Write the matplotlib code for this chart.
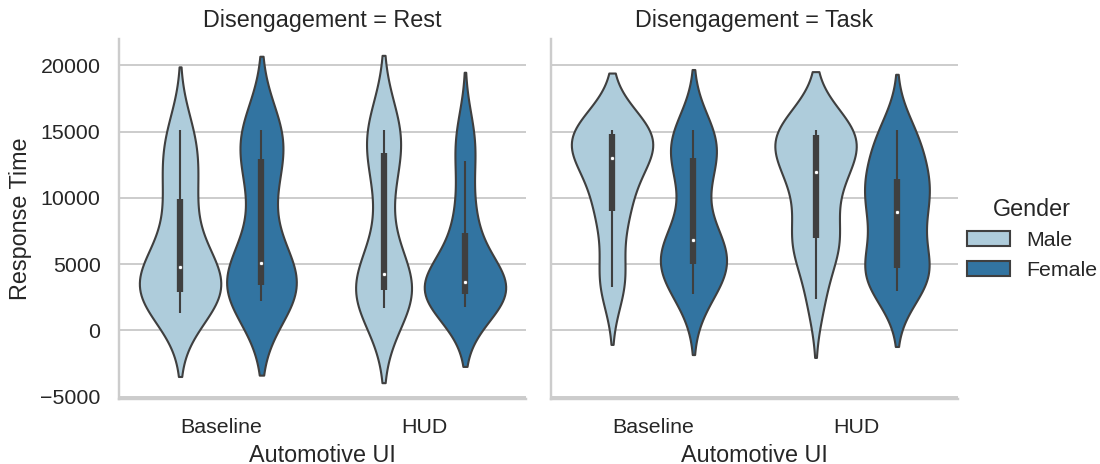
import colorsys
import numpy as np
import matplotlib
matplotlib.use("Agg")
import matplotlib.pyplot as plt
from matplotlib.patches import Patch
import seaborn as sns

# Response times (ms), one value per participant and condition
rest_baseline_male = [1300, 2200, 2800, 2950, 3600, 4300, 5300, 6600, 9400, 11400, 13400, 15100]
rest_baseline_female = [2200, 2900, 3350, 3650, 3800, 6300, 10500, 13700, 14400, 15100]
rest_hud_male = [1700, 2400, 2900, 3100, 3300, 3500, 5000, 9500, 13000, 14600, 14800, 15100]
rest_hud_female = [1750, 2200, 2700, 2770, 3200, 3500, 3850, 4600, 6800, 9100, 12775, 15000]
task_baseline_male = [3250, 4300, 8000, 9370, 11000, 12700, 13350, 14000, 14700, 15000, 15050, 15100]
task_baseline_female = [2750, 3900, 4600, 5133, 5900, 6300, 7300, 10500, 12800, 13700, 14300, 15100]
task_hud_male = [2375, 6000, 6600, 7130, 10000, 11400, 12500, 13600, 14600, 15000, 15050, 15100]
task_hud_female = [3000, 3900, 4400, 4800, 6800, 8100, 9800, 10500, 11000, 12600, 14000, 15100]

disengagement = ["Rest", "Task"]
ui_order = ["Baseline", "HUD"]
gender_order = ["Male", "Female"]

response = {
    ("Rest", "Baseline", "Male"): rest_baseline_male,
    ("Rest", "Baseline", "Female"): rest_baseline_female,
    ("Rest", "HUD", "Male"): rest_hud_male,
    ("Rest", "HUD", "Female"): rest_hud_female,
    ("Task", "Baseline", "Male"): task_baseline_male,
    ("Task", "Baseline", "Female"): task_baseline_female,
    ("Task", "HUD", "Male"): task_hud_male,
    ("Task", "HUD", "Female"): task_hud_female,
}

sns.set_theme(style="whitegrid", font="Liberation Sans")

colors = [sns.desaturate(c, 0.75) for c in sns.color_palette("Paired", 2)]
lum = min(colorsys.rgb_to_hls(*c)[1] for c in colors) * 0.6
edge = (lum, lum, lum)

LW = 1.08
BW_ADJUST = 0.84
CUT = 2
HALF = 0.2          # half width of a single violin (two hues share 0.8)
OFFSETS = [-0.2, 0.2]


def kde(vals):
    vals = np.asarray(vals, dtype=float)
    bw = BW_ADJUST * vals.std(ddof=1) * len(vals) ** -0.2
    support = np.linspace(vals.min() - CUT * bw, vals.max() + CUT * bw, 100)
    z = (support[:, None] - vals[None, :]) / bw
    dens = np.exp(-0.5 * z ** 2).sum(axis=1) / (len(vals) * bw * np.sqrt(2 * np.pi))
    return support, dens


def box_stats(vals):
    vals = np.asarray(vals, dtype=float)
    q1, med, q3 = np.percentile(vals, [25, 50, 75])
    lim = 1.5 * (q3 - q1)
    lo = vals[vals >= q1 - lim].min()
    hi = vals[vals <= q3 + lim].max()
    return lo, q1, med, q3, hi


DPI = 140
fig = plt.figure(figsize=(1100 / DPI, 464 / DPI))
axes = fig.subplots(1, 2, sharey=True)
fig.subplots_adjust(left=0.1082, right=0.8709, top=0.916, bottom=0.14, wspace=0.0614)

for ax, dis in zip(axes, disengagement):
    for xi, ui in enumerate(ui_order):
        curves = [kde(response[(dis, ui, g)]) for g in gender_order]
        # both genders at one position share the same width scale
        peak = max(d.max() for _, d in curves)
        for hj, g in enumerate(gender_order):
            center = xi + OFFSETS[hj]
            support, dens = curves[hj]
            w = HALF * dens / peak
            ax.fill_betweenx(support, center - w, center + w, facecolor=colors[hj],
                             edgecolor=edge, linewidth=LW)
            lo, q1, med, q3, hi = box_stats(response[(dis, ui, g)])
            ax.plot([center, center], [lo, hi], color=edge, linewidth=LW,
                    solid_capstyle="butt")
            ax.plot([center, center], [q1, q3], color=edge, linewidth=LW * 3,
                    solid_capstyle="butt")
            ax.scatter(center, med, s=(2 * LW) ** 2, color="white", edgecolor=edge,
                       linewidth=0.4, zorder=3)
    ax.set_xlim(-0.5, len(ui_order) - 0.5)
    ax.set_xticks(range(len(ui_order)), ui_order)
    ax.xaxis.grid(False)
    ax.set_xlabel("Automotive UI")
    ax.set_title(f"Disengagement = {dis}")

axes[0].set_ylabel("Response Time")
sns.despine(fig=fig)

handles = [Patch(facecolor=c, edgecolor=edge, linewidth=LW, label=g)
           for c, g in zip(colors, gender_order)]
fig.legend(handles=handles, title="Gender", loc="center right",
           bbox_to_anchor=(1.0155, 0.485), frameon=False)

fig.savefig("out.png", dpi=DPI)
